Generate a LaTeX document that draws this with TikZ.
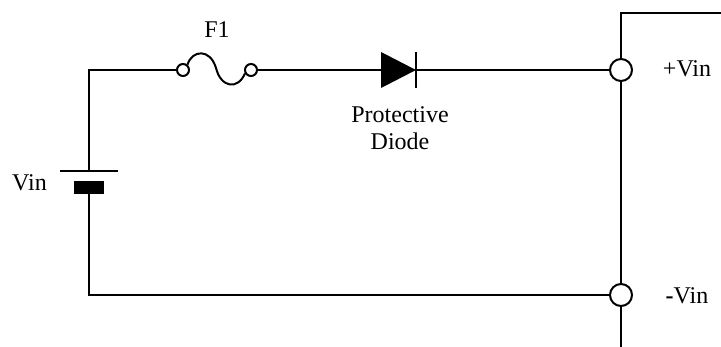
\documentclass[tikz,border=0pt]{standalone}
\usepackage{fontspec}
\setmainfont{Liberation Serif}
\begin{document}
\begin{tikzpicture}[x=0.5pt,y=-0.5pt,line width=1pt,
    font=\fontsize{12}{13.5}\selectfont,
    pin/.style={circle,draw,fill=white,inner sep=0pt,minimum size=6pt},
    term/.style={circle,draw,fill=white,inner sep=0pt,minimum size=11pt}]
  \useasboundingbox (0,0) rectangle (721,347);
  % fuse ends and terminals
  \node[pin] (fa) at (183,70) {};
  \node[pin] (fb) at (251,70) {};
  \node[term] (vp) at (621,70) {};
  \node[term] (vm) at (621,295) {};
  \coordinate (da) at (381,70);
  \coordinate (dk) at (416,70);
  \coordinate (bt) at (89,171);
  \coordinate (bb) at (89,194);
  \coordinate (tl) at (89,70);
  \coordinate (bl) at (89,295);
  \coordinate (ptop) at (621,13);
  \coordinate (pout) at (721,13);
  \coordinate (mbot) at (621,347);
  % wires
  \draw (bt) -- (tl) -- (fa);
  \draw (fb) -- (da);
  \draw (dk) -- (vp);
  \draw (bb) -- (bl) -- (vm);
  \draw (pout) -- (ptop) -- (vp) -- (vm) -- (mbot);
  % fuse
  \draw (fa.50) .. controls (192,50) and (210,48) .. (216,68)
    .. controls (221,88) and (238,90) .. (fb.210);
  % diode
  \fill (381,52) -- (dk) -- (381,88) -- cycle;
  \draw (416,52) -- (416,88);
  % battery
  \draw (60,171) -- (118,171);
  \fill (74,181) rectangle (104,194);
  % labels
  \node[anchor=base] (f1) at (217,38) {F1};
  \node[anchor=base] (vin) at (29.5,191) {Vin};
  \node[anchor=base] (lp) at (687,77) {+Vin};
  \node[anchor=base] (lm) at (687,303) {\textbf{-}Vin};
  \node[anchor=base,align=center] (pd) at (400,150) {Protective\\Diode};
\end{tikzpicture}
\end{document}
